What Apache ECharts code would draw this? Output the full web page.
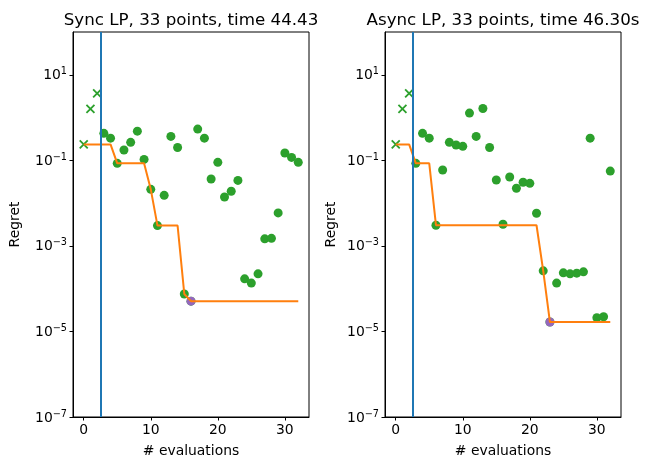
<!DOCTYPE html>
<html>
<head>
<meta charset="utf-8">
<script src="https://cdn.jsdelivr.net/npm/echarts@6/dist/echarts.min.js"></script>
<style>
html,body{margin:0;padding:0;background:#fff;}
#chart{width:648px;height:470px;}
</style>
</head>
<body>
<div id="chart"></div>
<script>
// ---- data ----
const evaluations = Array.from({length: 33}, (_, i) => i);
const nInitial = 3;               // first 3 points = initial design ('x' markers)
const splitPosition = 2.5;        // vertical separator
const syncTitle = "Sync LP, 33 points, time 44.43";
const asyncTitle = "Async LP, 33 points, time 46.30s";
const syncRegret = [0.236, 1.6, 3.66, 0.427, 0.33, 0.085, 0.174, 0.263, 0.48, 0.105,
  0.021, 0.00298, 0.0152, 0.363, 0.20, 7.5e-5, 5.1e-5, 0.537, 0.33, 0.0366,
  0.0897, 0.0139, 0.0189, 0.034, 1.7e-4, 1.35e-4, 2.22e-4, 1.46e-3, 1.5e-3, 5.9e-3,
  0.148, 0.117, 0.0897];
const asyncRegret = [0.236, 1.6, 3.66, 0.085, 0.427, 0.33, 0.00304, 0.0594, 0.263, 0.228,
  0.212, 1.27, 0.363, 1.63, 0.20, 0.0347, 0.0032, 0.0408, 0.0222, 0.0307,
  0.029, 0.0058, 2.61e-4, 1.66e-5, 1.35e-4, 2.34e-4, 2.22e-4, 2.3e-4, 2.47e-4, 0.33,
  2.09e-5, 2.2e-5, 0.056];
const xTicks = [0, 10, 20, 30];
const yTickExponents = [-7, -5, -3, -1, 1];

// ---- helpers ----
const FONT = "DejaVu Sans";
const GREEN = "#2ca02c", ORANGE = "#ff7f0e", PURPLE = "#9467bd", BLUE = "#1f77b4";
const lg = v => Math.log10(v);

function cumMin(arr) {
  let m = Infinity;
  return arr.map(v => (m = Math.min(m, v)));
}

const grids = [
  {left: 73, top: 32, width: 236, height: 385},
  {left: 385, top: 32, width: 236, height: 385}
];

function supLabel(v) {
  const e = Math.round(v);
  const s = (e < 0 ? "\u2212" : "") + Math.abs(e);
  return "{b|10}{s|" + s + "}";
}

const option = {
  animation: false,
  backgroundColor: "#fff",
  title: [
    {text: syncTitle, left: 186, top: 7, textAlign: "center",
     textStyle: {fontFamily: FONT, fontSize: 16.7, fontWeight: "normal", color: "#000"}},
    {text: asyncTitle, left: 498, top: 7, textAlign: "center",
     textStyle: {fontFamily: FONT, fontSize: 16.7, fontWeight: "normal", color: "#000"}}
  ],
  grid: grids.map(g => Object.assign({show: true, borderColor: "#000", borderWidth: 1,
    backgroundColor: "transparent", containLabel: false}, g)),
  xAxis: [0, 1].map(i => ({
    type: "value", gridIndex: i, min: -1.6, max: 33.6,
    name: "# evaluations", nameLocation: "middle", nameGap: 27,
    nameTextStyle: {fontFamily: FONT, fontSize: 13.9, color: "#000"},
    axisLine: {show: true, onZero: false, lineStyle: {color: "#000", width: 1}},
    axisTick: {show: true, length: 3.5, customValues: xTicks, lineStyle: {color: "#000", width: 1}},
    axisLabel: {customValues: xTicks, margin: 6, fontFamily: FONT, fontSize: 13.9, color: "#000"},
    splitLine: {show: false}
  })),
  yAxis: [0, 1].map(i => ({
    type: "value", gridIndex: i, min: -7, max: 2,
    name: "Regret", nameLocation: "middle", nameGap: i === 0 ? 51 : 47, nameRotate: 90,
    nameTextStyle: {fontFamily: FONT, fontSize: 13.9, color: "#000"},
    axisLine: {show: true, onZero: false, lineStyle: {color: "#000", width: 1}},
    axisTick: {show: true, length: 3.5, customValues: yTickExponents, lineStyle: {color: "#000", width: 1}},
    axisLabel: {
      customValues: yTickExponents, margin: 6,
      formatter: supLabel,
      rich: {
        b: {fontFamily: FONT, fontSize: 13.9, color: "#000", lineHeight: 16, verticalAlign: "bottom"},
        s: {fontFamily: FONT, fontSize: 9.7, color: "#000", lineHeight: 16, verticalAlign: "top"}
      }
    },
    splitLine: {show: false}
  })),
  series: []
};

function addPanel(idx, regret) {
  const initPts = [], restPts = [];
  regret.forEach((v, i) => {
    const pt = [evaluations[i], lg(v)];
    if (i < nInitial) initPts.push(pt); else restPts.push(pt);
  });
  const cm = cumMin(regret);
  const linePts = cm.map((v, i) => [evaluations[i], lg(v)]);
  let bestIdx = 0;
  regret.forEach((v, i) => { if (v < regret[bestIdx]) bestIdx = i; });

  option.series.push({
    type: "scatter", xAxisIndex: idx, yAxisIndex: idx, z: 2,
    symbol: "path://M0,0L10,10M10,0L0,10", symbolSize: 8,
    itemStyle: {color: "rgba(0,0,0,0)", borderColor: GREEN, borderWidth: 1.8, opacity: 1},
    data: initPts, silent: true
  });
  option.series.push({
    type: "scatter", xAxisIndex: idx, yAxisIndex: idx, z: 2,
    symbol: "circle", symbolSize: 9,
    itemStyle: {color: GREEN, opacity: 1},
    data: restPts, silent: true
  });
  option.series.push({
    type: "scatter", xAxisIndex: idx, yAxisIndex: idx, z: 3,
    symbol: "circle", symbolSize: 9,
    itemStyle: {color: PURPLE, opacity: 1},
    data: [[evaluations[bestIdx], lg(regret[bestIdx])]], silent: true
  });
  option.series.push({
    type: "line", xAxisIndex: idx, yAxisIndex: idx, z: 4,
    showSymbol: false, symbol: "none",
    lineStyle: {color: ORANGE, width: 2},
    data: linePts, silent: true,
    markLine: {
      silent: true, symbol: ["none", "none"], z: 5,
      label: {show: false},
      lineStyle: {color: BLUE, width: 2, type: "solid"},
      data: [{xAxis: splitPosition}]
    }
  });
}

addPanel(0, syncRegret);
addPanel(1, asyncRegret);

const chart = echarts.init(document.getElementById("chart"), null, {renderer: "canvas"});
chart.setOption(option);
</script>
</body>
</html>
